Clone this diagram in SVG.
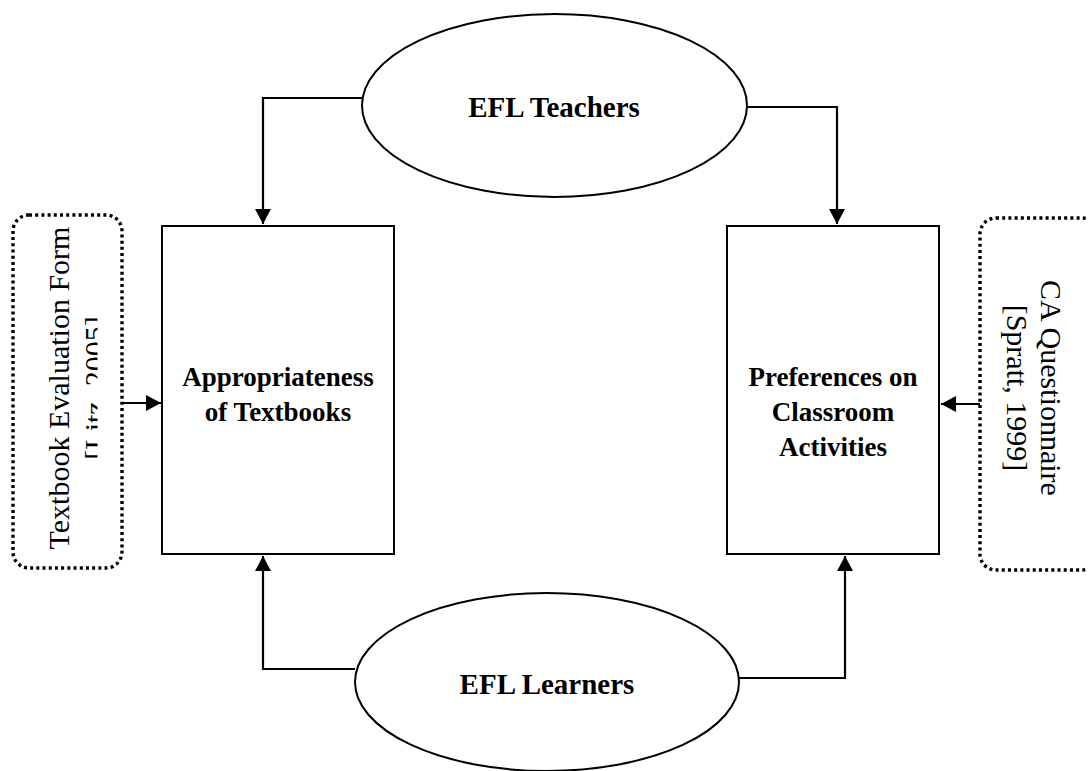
<svg xmlns="http://www.w3.org/2000/svg" width="1088" height="771" viewBox="0 0 1088 771">
<style>
.box{fill:#fff;stroke:#000;stroke-width:2}
.ell{fill:#fff;stroke:#000;stroke-width:2}
.dot{fill:none;stroke:#000;stroke-width:3.4;stroke-dasharray:3 3.2}
.con{fill:none;stroke:#000;stroke-width:2.2}
.b{font-family:"Liberation Serif","Times New Roman",serif;font-weight:bold;font-size:27px;text-anchor:middle;fill:#000}
.bl{font-family:"Liberation Serif","Times New Roman",serif;font-weight:bold;font-size:29px;text-anchor:middle;fill:#000}
.r{font-family:"Liberation Serif","Times New Roman",serif;font-size:30px;text-anchor:middle;fill:#000}
</style>
<defs>
<marker id="ah" markerUnits="userSpaceOnUse" markerWidth="16" markerHeight="16" refX="15" refY="8" orient="auto">
<path d="M0,0 L15,8 L0,16 Z" fill="#000"/>
</marker>
<clipPath id="clipL"><rect x="0" y="0" width="97.5" height="771"/></clipPath>
</defs>
<rect width="1088" height="771" fill="#fff"/>
<g id="connectors">
<path class="con" d="M362,98 H263 V224" marker-end="url(#ah)"/>
<path class="con" d="M747,107 H837 V224" marker-end="url(#ah)"/>
<path class="con" d="M355,669 H263 V556" marker-end="url(#ah)"/>
<path class="con" d="M739,678 H845 V556" marker-end="url(#ah)"/>
<path class="con" d="M122,403 H161" marker-end="url(#ah)"/>
<path class="con" d="M980,404 H941" marker-end="url(#ah)"/>
</g>
<g id="teachers">
<ellipse class="ell" cx="554.5" cy="105.5" rx="192.5" ry="91.5"/>
<text class="bl" x="554" y="117">EFL Teachers</text>
</g>
<g id="learners">
<ellipse class="ell" cx="547" cy="682" rx="192" ry="89"/>
<text class="bl" x="547" y="694">EFL Learners</text>
</g>
<g id="appropriateness">
<rect class="box" x="162" y="226" width="232" height="328"/>
<text class="b" x="278" y="386">Appropriateness</text>
<text class="b" x="278" y="421">of Textbooks</text>
</g>
<g id="preferences">
<rect class="box" x="727" y="226" width="212" height="328"/>
<text class="b" x="833" y="386">Preferences on</text>
<text class="b" x="833" y="421">Classroom</text>
<text class="b" x="833" y="456">Activities</text>
</g>
<g id="textbook-form">
<rect class="dot" x="13" y="215" width="109" height="353" rx="16"/>
<text class="r" transform="translate(69,388) rotate(-90)">Textbook Evaluation Form</text>
<g clip-path="url(#clipL)">
<text class="r" transform="translate(105,388) rotate(-90)">[Litz, 2005]</text>
</g>
</g>
<g id="ca-questionnaire">
<rect class="dot" x="980" y="218" width="118" height="352" rx="16"/>
<text class="r" transform="translate(1041,388) rotate(90)">CA Questionnaire</text>
<text class="r" transform="translate(1007,388) rotate(90)">[Spratt, 1999]</text>
</g>
</svg>
